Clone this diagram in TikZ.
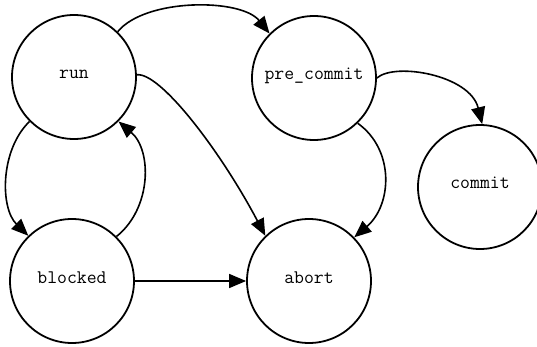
\documentclass[tikz,border=0pt]{standalone}
\usetikzlibrary{arrows.meta}
\begin{document}
\begin{tikzpicture}[x=1pt,y=-1pt,
  state/.style={draw, circle, line width=1.8pt, minimum size=124pt, inner sep=0pt,
    text height=7pt, text depth=3pt, font=\ttfamily\fontsize{19.2}{22}\selectfont},
  edge/.style={line width=1.6pt, -{Triangle[length=17pt,width=14pt]}}]
\useasboundingbox (0,0) rectangle (537,347);
\node[state] (run) at (74,77) {run};
\node[state] (pre_commit) at (314,78) {pre\_commit};
\node[state] (commit) at (480,187) {commit};
\node[state] (blocked) at (72,281) {blocked};
\node[state] (abort) at (309,281) {abort};
\draw[edge] (run.46) .. controls (145,-2) and (241,-2) .. (pre_commit.135);
\draw[edge] (run.2) .. controls (160,72) and (220,150) .. (abort.134);
\draw[edge] (run.225) .. controls (0,150) and (0,208) .. (blocked.134);
\draw[edge] (blocked.45) .. controls (152,208) and (152,150) .. (run.-45);
\draw[edge] (blocked.east) -- (abort.west);
\draw[edge] (pre_commit.-46) .. controls (395,150) and (392,205) .. (abort.44);
\draw[edge] (pre_commit.0) .. controls (395,62) and (470,75) .. (commit.88);
\end{tikzpicture}
\end{document}
